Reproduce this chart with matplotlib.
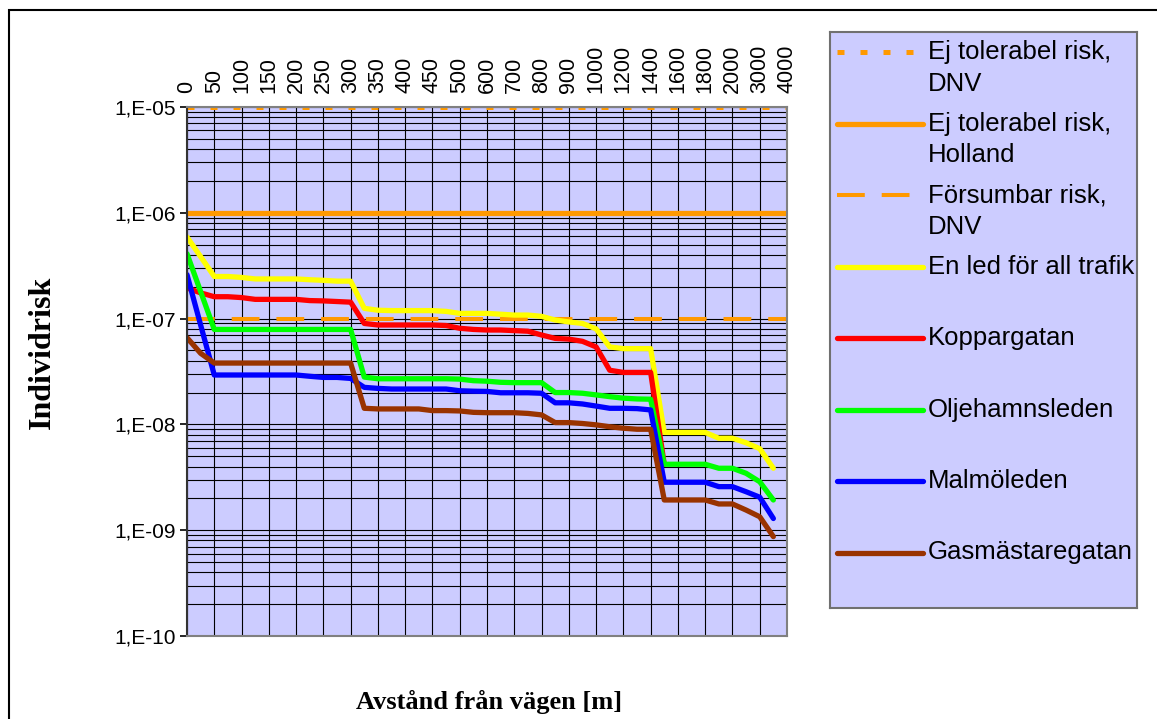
import numpy as np
import matplotlib.pyplot as plt
from matplotlib.patches import Rectangle
from matplotlib.ticker import FuncFormatter, LogLocator, NullFormatter

plt.rcParams['font.family'] = ['Liberation Sans', 'DejaVu Sans']

# Distance from the road [m]; only every other category gets a label
distances = [0, 25, 50, 75, 100, 125, 150, 175, 200, 225, 250, 275, 300, 325, 350,
             375, 400, 425, 450, 475, 500, 550, 600, 650, 700, 750, 800, 850, 900,
             950, 1000, 1100, 1200, 1300, 1400, 1500, 1600, 1700, 1800, 1900, 2000,
             2500, 3000, 3500, 4000]

# Risk criteria
limit_names = ["Ej tolerabel risk,\nDNV", "Ej tolerabel risk,\nHolland", "Försumbar risk,\nDNV"]
limit_values = [1e-5, 1e-6, 1e-7]

# Individual risk per route
en_led = [5.9e-7, 3.85e-7, 2.5e-7, 2.5e-7, 2.45e-7, 2.37e-7, 2.37e-7, 2.37e-7, 2.37e-7,
          2.33e-7, 2.3e-7, 2.26e-7, 2.26e-7, 1.25e-7, 1.2e-7, 1.19e-7, 1.19e-7, 1.19e-7,
          1.19e-7, 1.17e-7, 1.12e-7, 1.12e-7, 1.12e-7, 1.1e-7, 1.08e-7, 1.08e-7, 1.05e-7,
          9.7e-8, 9.3e-8, 9.0e-8, 8.0e-8, 5.4e-8, 5.2e-8, 5.2e-8, 5.2e-8, 8.4e-9, 8.4e-9,
          8.4e-9, 8.4e-9, 7.4e-9, 7.4e-9, 6.7e-9, 5.9e-9, 3.85e-9]
koppargatan = [1.95e-7, 1.75e-7, 1.61e-7, 1.61e-7, 1.58e-7, 1.52e-7, 1.52e-7, 1.52e-7, 1.52e-7,
               1.48e-7, 1.47e-7, 1.45e-7, 1.43e-7, 9.0e-8, 8.7e-8, 8.7e-8, 8.7e-8, 8.7e-8,
               8.7e-8, 8.6e-8, 8.1e-8, 7.9e-8, 7.8e-8, 7.8e-8, 7.7e-8, 7.6e-8, 7.0e-8,
               6.5e-8, 6.4e-8, 6.1e-8, 5.4e-8, 3.25e-8, 3.1e-8, 3.1e-8, 3.1e-8, 4.2e-9]
oljehamnsleden = [4.1e-7, 1.8e-7, 7.9e-8, 7.9e-8, 7.9e-8, 7.9e-8, 7.9e-8, 7.9e-8, 7.9e-8,
                  7.9e-8, 7.9e-8, 7.9e-8, 7.9e-8, 2.8e-8, 2.7e-8, 2.7e-8, 2.7e-8, 2.7e-8,
                  2.7e-8, 2.7e-8, 2.68e-8, 2.59e-8, 2.56e-8, 2.5e-8, 2.48e-8, 2.48e-8, 2.48e-8,
                  2.0e-8, 2.0e-8, 1.97e-8, 1.9e-8, 1.83e-8, 1.77e-8, 1.74e-8, 1.73e-8, 4.2e-9,
                  4.2e-9, 4.2e-9, 4.2e-9, 3.85e-9, 3.85e-9, 3.45e-9, 2.87e-9, 1.93e-9]
malmoleden = [2.6e-7, 8.7e-8, 2.93e-8, 2.93e-8, 2.93e-8, 2.93e-8, 2.93e-8, 2.93e-8, 2.93e-8,
              2.85e-8, 2.78e-8, 2.78e-8, 2.72e-8, 2.24e-8, 2.19e-8, 2.16e-8, 2.16e-8, 2.16e-8,
              2.16e-8, 2.16e-8, 2.08e-8, 2.06e-8, 2.05e-8, 1.99e-8, 1.99e-8, 1.99e-8, 1.97e-8,
              1.6e-8, 1.6e-8, 1.56e-8, 1.49e-8, 1.42e-8, 1.42e-8, 1.41e-8, 1.37e-8, 2.84e-9,
              2.84e-9, 2.84e-9, 2.84e-9, 2.58e-9, 2.58e-9, 2.31e-9, 2.05e-9, 1.29e-9]
gasmastaregatan = [6.6e-8, 4.7e-8, 3.8e-8, 3.8e-8, 3.8e-8, 3.8e-8, 3.8e-8, 3.8e-8, 3.8e-8,
                   3.8e-8, 3.8e-8, 3.8e-8, 3.8e-8, 1.42e-8, 1.4e-8, 1.4e-8, 1.4e-8, 1.4e-8,
                   1.35e-8, 1.35e-8, 1.34e-8, 1.3e-8, 1.29e-8, 1.29e-8, 1.29e-8, 1.27e-8, 1.23e-8,
                   1.04e-8, 1.04e-8, 1.02e-8, 9.9e-9, 9.5e-9, 9.2e-9, 9.0e-9, 9.0e-9, 1.93e-9,
                   1.93e-9, 1.93e-9, 1.93e-9, 1.77e-9, 1.77e-9, 1.55e-9, 1.34e-9, 8.7e-10]

series_names = ["En led för all trafik", "Koppargatan", "Oljehamnsleden", "Malmöleden",
                "Gasmästaregatan"]
series_values = [en_led, koppargatan, oljehamnsleden, malmoleden, gasmastaregatan]
series_colors = ["#FFFF00", "#FF0000", "#00FF00", "#0000FF", "#993300"]

orange = "#FF9900"
bg = "#CCCCFF"
line_w = 3.8
limit_widths = [3.6, 3.8, 2.9]
limit_styles = [(0, (1.4, 3.2)), "-", (0, (6.9, 4.2))]

W, H = 1157, 719
fig = plt.figure(figsize=(W / 100, H / 100), dpi=100)

ax = fig.add_axes([187 / W, 1 - 636 / H, 600 / W, 529 / H])
ax.set_facecolor(bg)
x = np.arange(len(distances))

for val, lw, ls in zip(limit_values, limit_widths, limit_styles):
    ax.axhline(val, color=orange, lw=lw, linestyle=ls, dash_capstyle='butt')

for vals, col in zip(series_values, series_colors):
    ax.plot(x[:len(vals)], vals, color=col, lw=line_w,
            solid_capstyle='round', solid_joinstyle='round')

ax.set_yscale('log')
ax.set_ylim(1e-10, 1e-5)
ax.set_xlim(0, len(distances) - 1)

# x labels along the top edge
ax.xaxis.tick_top()
ax.set_xticks(x[::2])
ax.set_xticklabels([str(d) for d in distances[::2]], rotation=90, fontsize=15.5)
ax.tick_params(axis='x', length=0, pad=10)

ax.yaxis.set_major_locator(LogLocator(base=10, numticks=12))
ax.yaxis.set_major_formatter(FuncFormatter(lambda v, _: "1,E-%02d" % round(-np.log10(v))))
ax.yaxis.set_minor_locator(LogLocator(base=10, subs=np.arange(2, 10), numticks=50))
ax.yaxis.set_minor_formatter(NullFormatter())
ax.tick_params(axis='y', which='major', length=5, width=1.2, direction='out', pad=3,
               labelsize=15)
ax.tick_params(axis='y', which='minor', length=0)

ax.set_axisbelow(True)
ax.grid(True, which='major', color='black', lw=0.8)
ax.grid(True, which='minor', axis='y', color='black', lw=0.8)

for side in ['top', 'right', 'bottom']:
    ax.spines[side].set_color('#808080')
    ax.spines[side].set_linewidth(1.5)
ax.spines['left'].set_color('#333333')
ax.spines['left'].set_linewidth(1.5)

fig.text(42 / W, 1 - 352 / H, "Individrisk", rotation=90, ha='center', va='center',
         family='Liberation Serif', weight='bold', fontsize=23)
fig.text(489 / W, 1 - 702 / H, "Avstånd från vägen [m]", ha='center', va='center',
         family='Liberation Serif', weight='bold', fontsize=19)

# legend box, drawn in pixel coordinates
lax = fig.add_axes([830 / W, 1 - 608 / H, 307 / W, 576 / H])
lax.set_xlim(830, 1137)
lax.set_ylim(608, 32)
lax.set_facecolor(bg)
lax.set_xticks([])
lax.set_yticks([])
for s in lax.spines.values():
    s.set_color('#707070')
    s.set_linewidth(1.5)

entries = []
for name, lw, ls in zip(limit_names, limit_widths, limit_styles):
    entries.append((name, orange, lw, ls))
for name, col in zip(series_names, series_colors):
    entries.append((name, col, line_w, "-"))

for i, (name, col, lw, ls) in enumerate(entries):
    yc = 52 + 71.5 * i
    lax.plot([837, 923], [yc, yc], color=col, lw=lw, linestyle=ls,
             solid_capstyle='round', dash_capstyle='butt')
    for j, part in enumerate(name.split("\n")):
        lax.text(928, yc + 32 * j, part, va='center', ha='left', fontsize=18.5)

# outer chart border
fig.patches.append(Rectangle((9 / W, -0.1), 1.2, 1.1 - 10 / H, transform=fig.transFigure,
                             fill=False, edgecolor='black', lw=1.5))

fig.savefig('out.png', dpi=100)
